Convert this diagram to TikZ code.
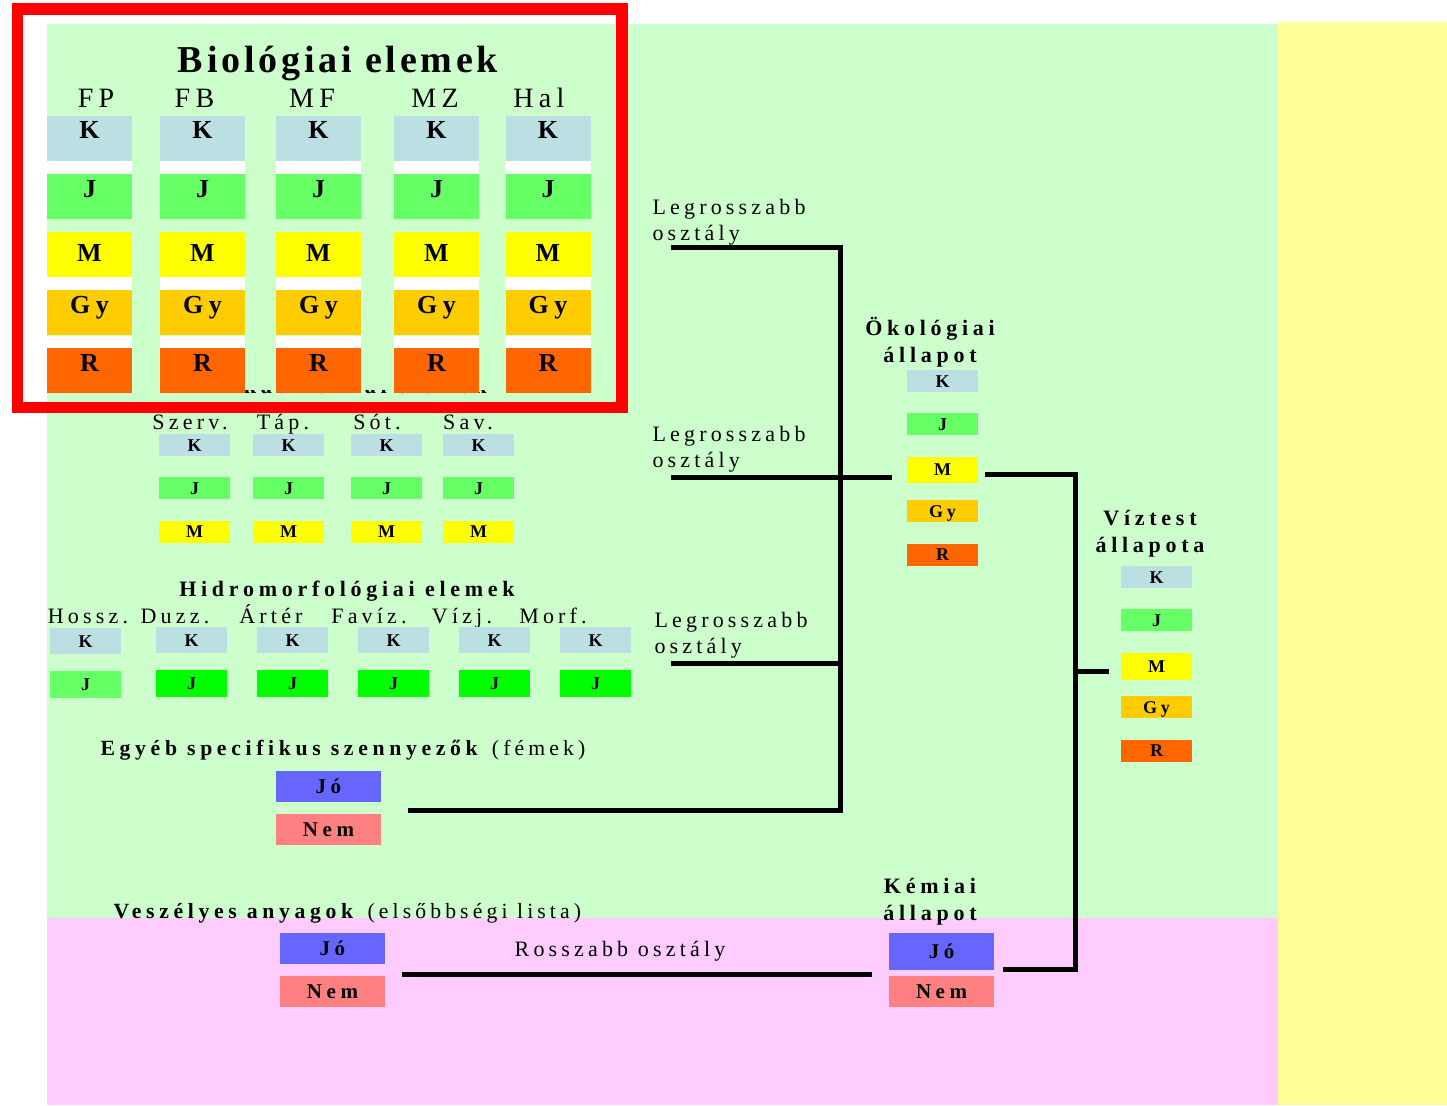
\documentclass[tikz,border=0pt]{standalone}
\usepackage{fontspec}
\setmainfont{Liberation Serif}[LetterSpace=19, BoldFeatures={LetterSpace=21.5}]
\newfontfamily\cimfont{Liberation Serif}[LetterSpace=10]
\usetikzlibrary{positioning}
\definecolor{zoldhatter}{RGB}{204,255,204}
\definecolor{rozsahatter}{RGB}{255,204,255}
\definecolor{sargahatter}{RGB}{255,255,153}
\definecolor{kszin}{RGB}{187,223,226}
\definecolor{jszin}{RGB}{102,255,102}
\definecolor{jzold}{RGB}{0,255,0}
\definecolor{mszin}{RGB}{255,255,0}
\definecolor{gyszin}{RGB}{255,204,0}
\definecolor{rszin}{RGB}{255,102,0}
\definecolor{joszin}{RGB}{102,102,255}
\definecolor{nemszin}{RGB}{255,128,128}
\tikzset{
  biobox/.style={
    rectangle,
    minimum width=85pt,
    minimum height=45pt,
    inner sep=0pt,
    font=\fontsize{26}{30}\selectfont\bfseries,
    text height=17pt,
    text depth=16pt
  },
  kisbox/.style={
    rectangle,
    minimum width=71pt,
    minimum height=22pt,
    inner sep=0pt,
    font=\fontsize{18}{21}\selectfont\bfseries,
    text height=12pt,
    text depth=0pt
  },
  jonem/.style={
    rectangle,
    minimum width=105pt,
    minimum height=31pt,
    inner sep=0pt,
    font=\fontsize{21}{25}\selectfont\bfseries,
    text height=14pt,
    text depth=0pt
  },
  oszlop/.style={
    anchor=base,
    font=\fontsize{28}{32}\selectfont
  },
  cimke/.style={
    anchor=base,
    font=\fontsize{22}{26}\selectfont
  },
  fejlec/.style={
    align=center,
    font=\fontsize{22}{27}\selectfont\bfseries
  },
  vonal/.style={
    line width=5pt,
    black
  }
}

\begin{document}
\begin{tikzpicture}[x=1pt, y=-1pt, node distance=12.7pt]
\useasboundingbox (0,0) rectangle (1447,1105);
% hatterek
\fill[zoldhatter] (47,24) rectangle (1278,918);
\fill[rozsahatter] (47,918) rectangle (1278,1105);
\fill[sargahatter] (1278,22) rectangle (1447,1105);

% fizikai-kemiai cim, csak az alja latszik ki
\node[fejlec, anchor=base] (fkcim) at (338,393) {Fizikai-kémiai elemek};
\fill[zoldhatter] (47,24) rectangle (600,390);

% biologiai elemek
\node[anchor=base, font=\cimfont\fontsize{38}{44}\selectfont\bfseries] (biocim) at (338,73) {Biológiai elemek};
\node[oszlop] (fp) at (96,107) {FP};
\node[oszlop] (fb) at (194.5,107) {FB};
\node[oszlop] (mf) at (312,107) {MF};
\node[oszlop] (mz) at (435,107) {MZ};
\node[oszlop] (hal) at (539,107) {Hal};

\node[biobox, fill=kszin] (fpK) at (89.5,138.5) {K};
\node[biobox, fill=jszin, below=of fpK] (fpJ) {J};
\node[biobox, fill=mszin, text depth=4pt, below=of fpJ] (fpM) {M};
\node[biobox, fill=gyszin, below=of fpM] (fpGy) {Gy};
\node[biobox, fill=rszin, below=of fpGy] (fpR) {R};

\node[biobox, fill=kszin] (fbK) at (202.5,138.5) {K};
\node[biobox, fill=jszin, below=of fbK] (fbJ) {J};
\node[biobox, fill=mszin, text depth=4pt, below=of fbJ] (fbM) {M};
\node[biobox, fill=gyszin, below=of fbM] (fbGy) {Gy};
\node[biobox, fill=rszin, below=of fbGy] (fbR) {R};

\node[biobox, fill=kszin] (mfK) at (318.5,138.5) {K};
\node[biobox, fill=jszin, below=of mfK] (mfJ) {J};
\node[biobox, fill=mszin, text depth=4pt, below=of mfJ] (mfM) {M};
\node[biobox, fill=gyszin, below=of mfM] (mfGy) {Gy};
\node[biobox, fill=rszin, below=of mfGy] (mfR) {R};

\node[biobox, fill=kszin] (mzK) at (436.5,138.5) {K};
\node[biobox, fill=jszin, below=of mzK] (mzJ) {J};
\node[biobox, fill=mszin, text depth=4pt, below=of mzJ] (mzM) {M};
\node[biobox, fill=gyszin, below=of mzM] (mzGy) {Gy};
\node[biobox, fill=rszin, below=of mzGy] (mzR) {R};

\node[biobox, fill=kszin] (halK) at (548,138.5) {K};
\node[biobox, fill=jszin, below=of halK] (halJ) {J};
\node[biobox, fill=mszin, text depth=4pt, below=of halJ] (halM) {M};
\node[biobox, fill=gyszin, below=of halM] (halGy) {Gy};
\node[biobox, fill=rszin, below=of halGy] (halR) {R};

% feher savok a dobozok kozott
\foreach \o in {fp,fb,mf,mz,hal} {
  \fill[white] (\o K.south west) rectangle (\o J.north east);
  \fill[white] (\o M.south west) rectangle (\o Gy.north east);
  \fill[white] (\o Gy.south west) rectangle (\o R.north east);
}

% fizikai-kemiai elemek
\node[cimke] (szerv) at (190,429) {Szerv.};
\node[cimke] (tap) at (283,429) {Táp.};
\node[cimke] (sot) at (377,429) {Sót.};
\node[cimke] (sav) at (468,429) {Sav.};

\node[kisbox, fill=kszin] (szervK) at (194.5,445) {K};
\node[kisbox, fill=jszin, below=21pt of szervK] (szervJ) {J};
\node[kisbox, fill=mszin, below=21pt of szervJ] (szervM) {M};
\node[kisbox, fill=kszin] (tapK) at (288.5,445) {K};
\node[kisbox, fill=jszin, below=21pt of tapK] (tapJ) {J};
\node[kisbox, fill=mszin, below=21pt of tapJ] (tapM) {M};
\node[kisbox, fill=kszin] (sotK) at (386.5,445) {K};
\node[kisbox, fill=jszin, below=21pt of sotK] (sotJ) {J};
\node[kisbox, fill=mszin, below=21pt of sotJ] (sotM) {M};
\node[kisbox, fill=kszin] (savK) at (478.5,445) {K};
\node[kisbox, fill=jszin, below=21pt of savK] (savJ) {J};
\node[kisbox, fill=mszin, below=21pt of savJ] (savM) {M};

% hidromorfologiai elemek
\node[fejlec, anchor=base] (hidrocim) at (347,596) {Hidromorfológiai elemek};
\node[cimke] (hossz) at (88,623) {Hossz.};
\node[cimke] (duzz) at (175,623) {Duzz.};
\node[cimke] (arter) at (271,623) {Ártér};
\node[cimke] (faviz) at (369,623) {Favíz.};
\node[cimke] (vizj) at (462,623) {Vízj.};
\node[cimke] (morf) at (553,623) {Morf.};

\node[kisbox, minimum height=26pt, fill=kszin] (hosszK) at (85.5,641) {K};
\node[kisbox, minimum height=27pt, fill=jszin, below=17pt of hosszK] (hosszJ) {J};
\node[kisbox, minimum height=26pt, fill=kszin] (duzzK) at (191.5,640) {K};
\node[kisbox, minimum height=27pt, fill=jzold, below=17pt of duzzK] (duzzJ) {J};
\node[kisbox, minimum height=26pt, fill=kszin] (arterK) at (292.5,640) {K};
\node[kisbox, minimum height=27pt, fill=jzold, below=17pt of arterK] (arterJ) {J};
\node[kisbox, minimum height=26pt, fill=kszin] (favizK) at (393.5,640) {K};
\node[kisbox, minimum height=27pt, fill=jzold, below=17pt of favizK] (favizJ) {J};
\node[kisbox, minimum height=26pt, fill=kszin] (vizjK) at (494.5,640) {K};
\node[kisbox, minimum height=27pt, fill=jzold, below=17pt of vizjK] (vizjJ) {J};
\node[kisbox, minimum height=26pt, fill=kszin] (morfK) at (595.5,640) {K};
\node[kisbox, minimum height=27pt, fill=jzold, below=17pt of morfK] (morfJ) {J};

% egyeb szennyezok
\node[anchor=base west, font=\fontsize{21.7}{26}\selectfont] (egyebcim) at (97,755) {\textbf{Egyéb specifikus szennyezők} (fémek)};
\node[jonem, fill=joszin] (egyebJo) at (328.5,786.5) {Jó};
\node[jonem, fill=nemszin, below=12pt of egyebJo] (egyebNem) {Nem};

% veszelyes anyagok
\node[anchor=base west, font=\fontsize{21.7}{26}\selectfont] (veszcim) at (110,918) {\textbf{Veszélyes anyagok} (elsőbbségi lista)};
\node[jonem, fill=joszin] (veszJo) at (332.5,948.5) {Jó};
\node[jonem, fill=nemszin, below=12pt of veszJo] (veszNem) {Nem};
\node[cimke] (rosszabb) at (620,956) {Rosszabb osztály};

% legrosszabb osztaly feliratok (a base az also sor alapvonala)
\node[cimke, anchor=base west, align=left] (legr1) at (649,240) {Legrosszabb\\osztály};
\node[cimke, anchor=base west, align=left] (legr2) at (649,467) {Legrosszabb\\osztály};
\node[cimke, anchor=base west, align=left] (legr3) at (651,653) {Legrosszabb\\osztály};

% okologiai allapot
\node[fejlec, anchor=base] (ekocim) at (930,362) {Ökológiai\\állapot};
\node[kisbox, fill=kszin] (ekoK) at (942.5,381) {K};
\node[kisbox, fill=jszin, below=21pt of ekoK] (ekoJ) {J};
\node[kisbox, minimum height=26pt, fill=mszin, below=21pt of ekoJ] (ekoM) {M};
\node[kisbox, fill=gyszin, below=17pt of ekoM] (ekoGy) {Gy};
\node[kisbox, fill=rszin, below=21pt of ekoGy] (ekoR) {R};

% kemiai allapot
\node[fejlec, anchor=base] (kemcim) at (930,920) {Kémiai\\állapot};
\node[jonem, minimum height=37pt, fill=joszin] (kemJo) at (941.5,951.5) {Jó};
\node[jonem, fill=nemszin, below=6pt of kemJo] (kemNem) {Nem};

% viztest allapota
\node[fejlec, anchor=base] (vizcim) at (1150,552) {Víztest\\állapota};
\node[kisbox, fill=kszin] (vizK) at (1156.5,577) {K};
\node[kisbox, fill=jszin, below=21pt of vizK] (vizJ) {J};
\node[kisbox, minimum height=27pt, fill=mszin, below=21pt of vizJ] (vizM) {M};
\node[kisbox, fill=gyszin, below=16pt of vizM] (vizGy) {Gy};
\node[kisbox, fill=rszin, below=21pt of vizGy] (vizR) {R};

% osszekoto vonalak
\coordinate (l1) at (671,247.5);
\coordinate (gyujtoFent) at (840,247.5);
\coordinate (gyujtoLent) at (840,810.5);
\coordinate (l2) at (671,477);
\coordinate (l2vege) at (892,477);
\coordinate (l3) at (671,663);
\coordinate (egyebVeg) at (408,810.5);
\draw[vonal] (l1) -- (gyujtoFent) -- (gyujtoLent) -- (egyebVeg);
\draw[vonal] (l2) -- (l2vege);
\draw[vonal] (l3) -- (l3 -| gyujtoFent);

\coordinate (ekoVeg) at (985,474.5);
\coordinate (jobbFent) at (1075,474.5);
\coordinate (jobbLent) at (1075,969);
\coordinate (kemVeg) at (1003,969);
\coordinate (vizVeg) at (1109,671);
\draw[vonal] (ekoVeg) -- (jobbFent) -- (jobbLent) -- (kemVeg);
\draw[vonal] (vizVeg) -- (vizVeg -| jobbFent);

\coordinate (veszVeg) at (402,974);
\coordinate (kemBal) at (872,974);
\draw[vonal] (veszVeg) -- (kemBal);

% piros keret a biologiai elemek korul
\draw[red, line width=11.5pt] (17.5,9) rectangle (622,407.5);
\end{tikzpicture}
\end{document}
